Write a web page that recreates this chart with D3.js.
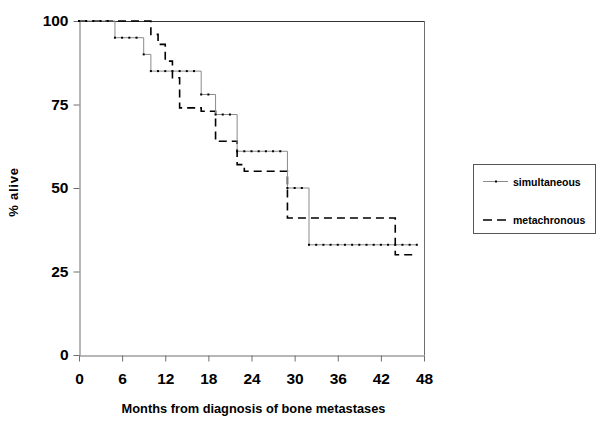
<!DOCTYPE html>
<html>
<head>
<meta charset="utf-8">
<script src="https://cdn.jsdelivr.net/npm/d3@7/dist/d3.min.js"></script>
<style>
  html, body { margin: 0; padding: 0; background: #fff; }
  svg { display: block; font-family: "Liberation Sans", Arial, sans-serif; }
</style>
</head>
<body>
<svg id="chart" width="600" height="422"></svg>
<script>
// ---- data ----
const simMonths = [0, 5, 9, 10, 17, 19, 22, 29, 32, 47];
const simAlive  = [100, 95, 90, 85, 78, 72, 61, 50, 33, 33];
const metMonths = [0, 10, 11, 12, 13, 14, 17, 19, 22, 23, 29, 44, 47];
const metAlive  = [100, 96, 93, 88, 83, 74, 73, 64, 57, 55, 41, 30, 30];
const simMarkMonths = [0,1,2,3,4,5,6,7,8,9,10,11,12,13,14,15,16,17,18,19,20,21,22,23,24,25,26,27,28,29,30,31,32,33,34,35,36,37,38,39,40,41,42,43,44,45,46,47];
const xTicks = [0, 6, 12, 18, 24, 30, 36, 42, 48];
const yTicks = [0, 25, 50, 75, 100];
const seriesNames = ["simultaneous", "metachronous"];
const xTitle = "Months from diagnosis of bone metastases";
const yTitle = "% alive";

// ---- layout ----
const L = 79, R = 424, T = 21, B = 355;
const svg = d3.select("#chart");
const x = d3.scaleLinear().domain([0, 48]).range([L, R]);
const y = d3.scaleLinear().domain([0, 100]).range([B, T]);
const axisColor = "#6e6e6e";

// frame (top and right)
svg.append("line").attr("x1", L).attr("x2", R + 0.5).attr("y1", T + 0.5).attr("y2", T + 0.5)
  .attr("stroke", "#333").attr("stroke-width", 1);
svg.append("line").attr("x1", R + 0.5).attr("x2", R + 0.5).attr("y1", T).attr("y2", B)
  .attr("stroke", axisColor).attr("stroke-width", 1);

// axes
const xAxis = d3.axisBottom(x).tickValues(xTicks).tickSize(6).tickPadding(11).tickSizeOuter(0);
const yAxis = d3.axisLeft(y).tickValues(yTicks).tickSize(6).tickPadding(5).tickSizeOuter(0);
const gx = svg.append("g").attr("transform", `translate(0,${B + 0.5})`).call(xAxis);
const gy = svg.append("g").attr("transform", `translate(${L + 0.5},0)`).call(yAxis);
[gx, gy].forEach(g => {
  g.select(".domain").attr("stroke", axisColor);
  g.selectAll(".tick line").attr("stroke", axisColor);
  g.selectAll(".tick text").attr("fill", "#000").attr("font-size", "15.5px")
    .attr("font-weight", "bold").attr("font-family", "Liberation Sans, Arial, sans-serif");
});

// step lines
const simData = simMonths.map((m, i) => [m, simAlive[i]]);
const metData = metMonths.map((m, i) => [m, metAlive[i]]);
const line = d3.line().x(d => x(d[0])).y(d => y(d[1])).curve(d3.curveStepAfter);

svg.append("path").datum(metData).attr("d", line)
  .attr("fill", "none").attr("stroke", "#000").attr("stroke-width", 1.6)
  .attr("stroke-dasharray", "8,5");

svg.append("path").datum(simData).attr("d", line)
  .attr("fill", "none").attr("stroke", "#8a8a8a").attr("stroke-width", 1);

function simAt(m) {
  let v = simAlive[0];
  for (let i = 0; i < simMonths.length; i++) if (simMonths[i] <= m) v = simAlive[i];
  return v;
}
svg.append("g").selectAll("rect").data(simMarkMonths).join("rect")
  .attr("x", d => x(d) - 1).attr("y", d => y(simAt(d)) - 1)
  .attr("width", 2).attr("height", 2).attr("fill", "#000");

// axis titles
svg.append("text").attr("x", (L + R) / 2 + 2).attr("y", 413)
  .attr("text-anchor", "middle").attr("font-size", "12.8px").attr("font-weight", "bold")
  .text(xTitle);
svg.append("text").attr("transform", `translate(18,192) rotate(-90)`)
  .attr("text-anchor", "middle").attr("font-size", "13px").attr("font-weight", "bold")
  .attr("letter-spacing", "0.8px")
  .text(yTitle);

// legend
const lg = svg.append("g");
lg.append("rect").attr("x", 473.5).attr("y", 164.5).attr("width", 122).attr("height", 69)
  .attr("fill", "#fff").attr("stroke", "#555").attr("stroke-width", 1);
lg.append("line").attr("x1", 483).attr("x2", 508).attr("y1", 181.5).attr("y2", 181.5)
  .attr("stroke", "#8a8a8a").attr("stroke-width", 1);
lg.append("rect").attr("x", 495).attr("y", 180.5).attr("width", 2).attr("height", 2).attr("fill", "#000");
lg.append("line").attr("x1", 483).attr("x2", 508).attr("y1", 220).attr("y2", 220)
  .attr("stroke", "#000").attr("stroke-width", 1.6).attr("stroke-dasharray", "9,5");
lg.selectAll("text.lab").data(seriesNames).join("text").attr("class", "lab")
  .attr("x", 513).attr("y", (d, i) => i === 0 ? 185.5 : 224)
  .attr("font-size", "10.5px").attr("font-weight", "bold").attr("fill", "#000")
  .text(d => d);
</script>
</body>
</html>
